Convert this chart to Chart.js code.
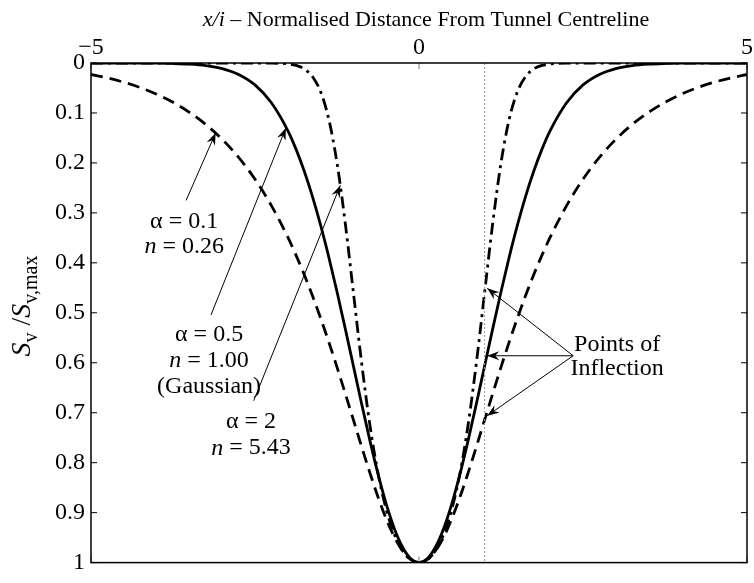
<!DOCTYPE html>
<html>
<head>
<meta charset="utf-8">
<script src="https://cdn.jsdelivr.net/npm/chart.js@4.4.1/dist/chart.umd.min.js"></script>
<style>
  html, body { margin: 0; padding: 0; background: #fff; }
  canvas { display: block; }
</style>
</head>
<body>
<canvas id="perfil" width="754" height="583"></canvas>
<script>
// half profile, x/i >= 0 (the trough is symmetric about the centreline)
const offsetHalf = [0, 0.125, 0.25, 0.375, 0.5, 0.625, 0.75, 0.875, 1, 1.125, 1.25, 1.375, 1.5, 1.625, 1.75, 1.875, 2, 2.25, 2.5, 2.75, 3, 3.25, 3.5, 3.75, 4, 4.25, 4.5, 4.75, 5];

// alpha = 0.1, n = 0.26
const asentA01 = [1, 0.9941, 0.9767, 0.9489, 0.9123, 0.8686, 0.8198, 0.7679, 0.7145, 0.6611, 0.6088, 0.5585, 0.5106, 0.4655, 0.4235, 0.3845, 0.3486, 0.2854, 0.2326, 0.1889, 0.1528, 0.1231, 0.0987, 0.0787, 0.0624, 0.0492, 0.0385, 0.0299, 0.0230];
// alpha = 0.5, n = 1.00 (gaussian)
const asentA05 = [1, 0.9922, 0.9692, 0.9321, 0.8825, 0.8226, 0.7548, 0.6819, 0.6065, 0.5311, 0.4578, 0.3886, 0.3247, 0.2671, 0.2163, 0.1724, 0.1353, 0.0796, 0.0439, 0.0228, 0.0111, 0.0051, 0.0022, 0.0009, 0.0003, 0.0001, 0, 0, 0];
// alpha = 2, n = 5.43
const asentA2 = [1, 0.9942, 0.9761, 0.9436, 0.8933, 0.8211, 0.7231, 0.5999, 0.4596, 0.3196, 0.1998, 0.1125, 0.0575, 0.0270, 0.0118, 0.0048, 0.0018, 0.0002, 0, 0, 0, 0, 0, 0, 0, 0, 0, 0, 0];

const xTicks = [-5, 0, 5];
const yTicks = [0, 0.1, 0.2, 0.3, 0.4, 0.5, 0.6, 0.7, 0.8, 0.9, 1];
const inflexionX = 1;

const serif = '"Liberation Serif", "Times New Roman", serif';

// both sides of the trough from the half profile
const perfil = (vals) => {
    const izq = offsetHalf.slice(1).map((x, i) => ({ x: -x, y: vals[i + 1] })).reverse();
    const der = offsetHalf.map((x, i) => ({ x: x, y: vals[i] }));
    return izq.concat(der);
};

// text pieces: {t, it (italic), sub (subscript)}
const fuente = (p, size) => (p.it ? 'italic ' : '') + (p.sub ? Math.round(size * 0.72) : size) + 'px ' + serif;

const anchoTexto = (ctx, piezas, size) => piezas.reduce((w, p) => {
    ctx.font = fuente(p, size);
    return w + ctx.measureText(p.t).width;
}, 0);

const escribir = (ctx, piezas, x, y, size) => {
    let cx = x - anchoTexto(ctx, piezas, size) / 2;
    ctx.textBaseline = 'middle';
    ctx.textAlign = 'left';
    piezas.forEach(p => {
        ctx.font = fuente(p, size);
        ctx.fillText(p.t, cx, p.sub ? y + size * 0.32 : y);
        cx += ctx.measureText(p.t).width;
    });
};

const flecha = (ctx, x1, y1, x2, y2) => {
    ctx.beginPath();
    ctx.moveTo(x1, y1);
    ctx.lineTo(x2, y2);
    ctx.stroke();
    const ang = Math.atan2(y2 - y1, x2 - x1);
    ctx.save();
    ctx.translate(x2, y2);
    ctx.rotate(ang);
    ctx.beginPath();
    ctx.moveTo(0, 0);
    ctx.lineTo(-12, -4.5);
    ctx.lineTo(-8, 0);
    ctx.lineTo(-12, 4.5);
    ctx.closePath();
    ctx.fill();
    ctx.restore();
};

// labels and arrows, positions in data units
const notas = [
    { lineas: [[{ t: 'α = 0.1' }], [{ t: 'n', it: true }, { t: ' = 0.26' }]], x: -3.58, y: [0.318, 0.367] },
    { lineas: [[{ t: 'α = 0.5' }], [{ t: 'n', it: true }, { t: ' = 1.00' }], [{ t: '(Gaussian)' }]], x: -3.2, y: [0.543, 0.596, 0.647] },
    { lineas: [[{ t: 'α = 2' }], [{ t: 'n', it: true }, { t: ' = 5.43' }]], x: -2.56, y: [0.718, 0.771] },
    { lineas: [[{ t: 'Points of' }], [{ t: 'Inflection' }]], x: 3.02, y: [0.563, 0.612] }
];
const flechas = [
    [-3.55, 0.275, -3.1, 0.14],
    [-3.17, 0.504, -2.03, 0.13],
    [-2.52, 0.676, -1.2, 0.245],
    [2.35, 0.586, 1.04, 0.451],
    [2.35, 0.586, 1.04, 0.586],
    [2.35, 0.586, 1.04, 0.706]
];

const marco = {
    id: 'marco',
    afterDatasetsDraw(chart) {
        const { ctx, chartArea: a, scales: { x, y } } = chart;
        ctx.save();

        // inward tick marks
        ctx.lineWidth = 1;
        ctx.strokeStyle = '#777';
        xTicks.forEach(v => {
            const px = x.getPixelForValue(v);
            ctx.beginPath();
            ctx.moveTo(px, a.top); ctx.lineTo(px, a.top + 6);
            ctx.moveTo(px, a.bottom); ctx.lineTo(px, a.bottom - 6);
            ctx.stroke();
        });
        ctx.strokeStyle = '#000';
        yTicks.forEach(v => {
            const py = y.getPixelForValue(v);
            ctx.beginPath();
            ctx.moveTo(a.left, py); ctx.lineTo(a.left + 6, py);
            ctx.moveTo(a.right, py); ctx.lineTo(a.right - 6, py);
            ctx.stroke();
        });

        // box
        ctx.lineWidth = 1.5;
        ctx.strokeRect(a.left, a.top, a.right - a.left, a.bottom - a.top);

        // title
        ctx.fillStyle = '#000';
        escribir(ctx, [{ t: 'x/i', it: true }, { t: ' – Normalised Distance From Tunnel Centreline' }], 426, 20, 22);

        // y axis label
        ctx.save();
        ctx.translate(27, 306);
        ctx.rotate(-Math.PI / 2);
        escribir(ctx, [{ t: 'S', it: true }, { t: 'v', sub: true }, { t: ' /' }, { t: 'S', it: true }, { t: 'v,max', sub: true }], 0, -4, 28);
        ctx.restore();

        // annotations
        notas.forEach(n => {
            n.lineas.forEach((l, i) => escribir(ctx, l, x.getPixelForValue(n.x), y.getPixelForValue(n.y[i]), 24));
        });
        ctx.lineWidth = 1;
        ctx.strokeStyle = '#000';
        flechas.forEach(f => flecha(ctx,
            x.getPixelForValue(f[0]), y.getPixelForValue(f[1]),
            x.getPixelForValue(f[2]), y.getPixelForValue(f[3])));

        ctx.restore();
    }
};

const curva = (vals, dash) => ({
    data: perfil(vals),
    borderColor: '#000',
    borderWidth: 2.8,
    borderDash: dash,
    pointRadius: 0,
    cubicInterpolationMode: 'monotone',
    fill: false
});

const ctx = document.getElementById('perfil').getContext('2d');
const myChart = new Chart(ctx, {
    type: 'line',
    data: {
        datasets: [
            {
                data: [{ x: inflexionX, y: 0 }, { x: inflexionX, y: 1 }],
                borderColor: '#999',
                borderWidth: 1,
                borderDash: [2, 2],
                pointRadius: 0
            },
            curva(asentA01, [12, 7]),
            curva(asentA05, []),
            curva(asentA2, [12, 5, 3, 5])
        ]
    },
    options: {
        responsive: false,
        animation: false,
        layout: { autoPadding: false, padding: { left: 0, right: 2, top: 0, bottom: 10 } },
        plugins: { legend: { display: false }, tooltip: { enabled: false } },
        scales: {
            x: {
                type: 'linear',
                position: 'top',
                min: -5,
                max: 5,
                afterFit: s => { s.height = 63; },
                afterBuildTicks: s => { s.ticks = xTicks.map(v => ({ value: v })); },
                ticks: {
                    padding: 1,
                    color: '#000',
                    maxRotation: 0,
                    font: { family: serif, size: 24 },
                    callback: v => (v < 0 ? '−' + Math.abs(v) : '' + v)
                },
                grid: { display: false, drawTicks: false },
                border: { display: false }
            },
            y: {
                reverse: true,
                min: 0,
                max: 1,
                afterFit: s => { s.width = 91; },
                afterBuildTicks: s => { s.ticks = yTicks.map(v => ({ value: v })); },
                ticks: {
                    padding: 6,
                    color: '#000',
                    font: { family: serif, size: 24 },
                    callback: v => '' + v
                },
                grid: { display: false, drawTicks: false },
                border: { display: false }
            }
        }
    },
    plugins: [marco]
});
</script>
</body>
</html>
